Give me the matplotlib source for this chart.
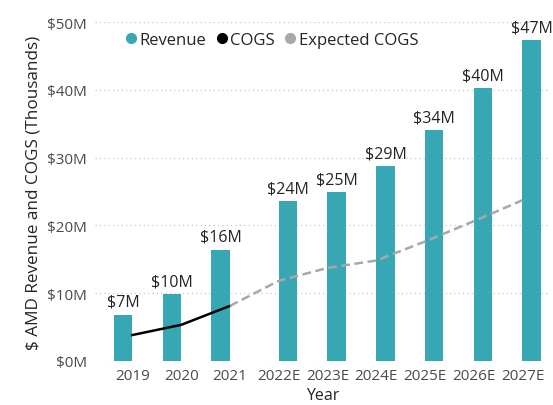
import numpy as np
import matplotlib.pyplot as plt
from matplotlib.lines import Line2D

plt.rcParams['font.family'] = ['Open Sans', 'DejaVu Sans']

years = ['2019', '2020', '2021', '2022E', '2023E', '2024E', '2025E', '2026E', '2027E']
revenue = [6.8, 9.8, 16.4, 23.6, 24.9, 28.7, 34.1, 40.3, 47.4]   # $M
cogs_years = ['2019', '2020', '2021']
cogs = [3.8, 5.3, 8.1]
exp_years = ['2021', '2022E', '2023E', '2024E', '2025E', '2026E', '2027E']
exp_cogs = [8.1, 11.8, 13.7, 14.8, 17.6, 20.6, 23.7]
yticks = [0, 10, 20, 30, 40, 50]

teal = '#37A8B3'
grey = '#A8A8A8'
txt = '#252423'
tick_col = '#4A4A4A'

x = np.arange(len(years))
pos = {y: i for i, y in enumerate(years)}
estimate = np.array([y.endswith('E') for y in years])
w = 0.38

fig = plt.figure(figsize=(5.53, 4.06), dpi=100)
ax = fig.add_axes([0.172, 0.109, 0.823, 0.834])

# actual years sit left of the category, estimates to the right
widths = np.where(estimate, w, -w)
bars = ax.bar(x, revenue, width=widths, align='edge', color=teal, zorder=2)
for xi, wi, v in zip(x, widths, revenue):
    ax.text(xi + wi / 2, v + 0.7, f'${v:.0f}M', ha='center', va='bottom',
            fontsize=11.5, color=txt)

ax.plot([pos[y] for y in cogs_years], cogs, color='black', lw=1.8, zorder=3)
ax.plot([pos[y] for y in exp_years], exp_cogs, color=grey, lw=1.8,
        dashes=(3.5, 1.8), zorder=3)

ax.set_ylim(0, 50)
ax.set_xlim(-0.765, 8.57)
ax.set_yticks(yticks)
ax.set_yticklabels([f'${t}M' for t in yticks])
ax.set_xticks(x)
ax.set_xticklabels(years)
ax.tick_params(length=0, labelsize=11, colors=tick_col, pad=6)
ax.tick_params(axis='x', pad=5)
for s in ax.spines.values():
    s.set_visible(False)
ax.grid(axis='y', color='#C8C8C8', linestyle=(0, (1, 2.5)), lw=0.9, zorder=0)
ax.set_axisbelow(True)

ax.set_xlabel('Year', fontsize=11.5, color=txt, labelpad=3)
ax.set_ylabel('$ AMD Revenue and COGS (Thousands)', fontsize=12.3, color=txt,
              labelpad=4)

handles = [Line2D([], [], marker='o', ls='', color=c, markersize=7)
           for c in (teal, 'black', grey)]
ax.legend(handles, ['Revenue', 'COGS', 'Expected COGS'], ncol=3,
          loc='upper left', bbox_to_anchor=(0.045, 0.99), frameon=False,
          handletextpad=0.0, columnspacing=0.45, handlelength=1.0,
          fontsize=12, labelcolor=txt, borderaxespad=0)

fig.savefig('out.png', dpi=100)
